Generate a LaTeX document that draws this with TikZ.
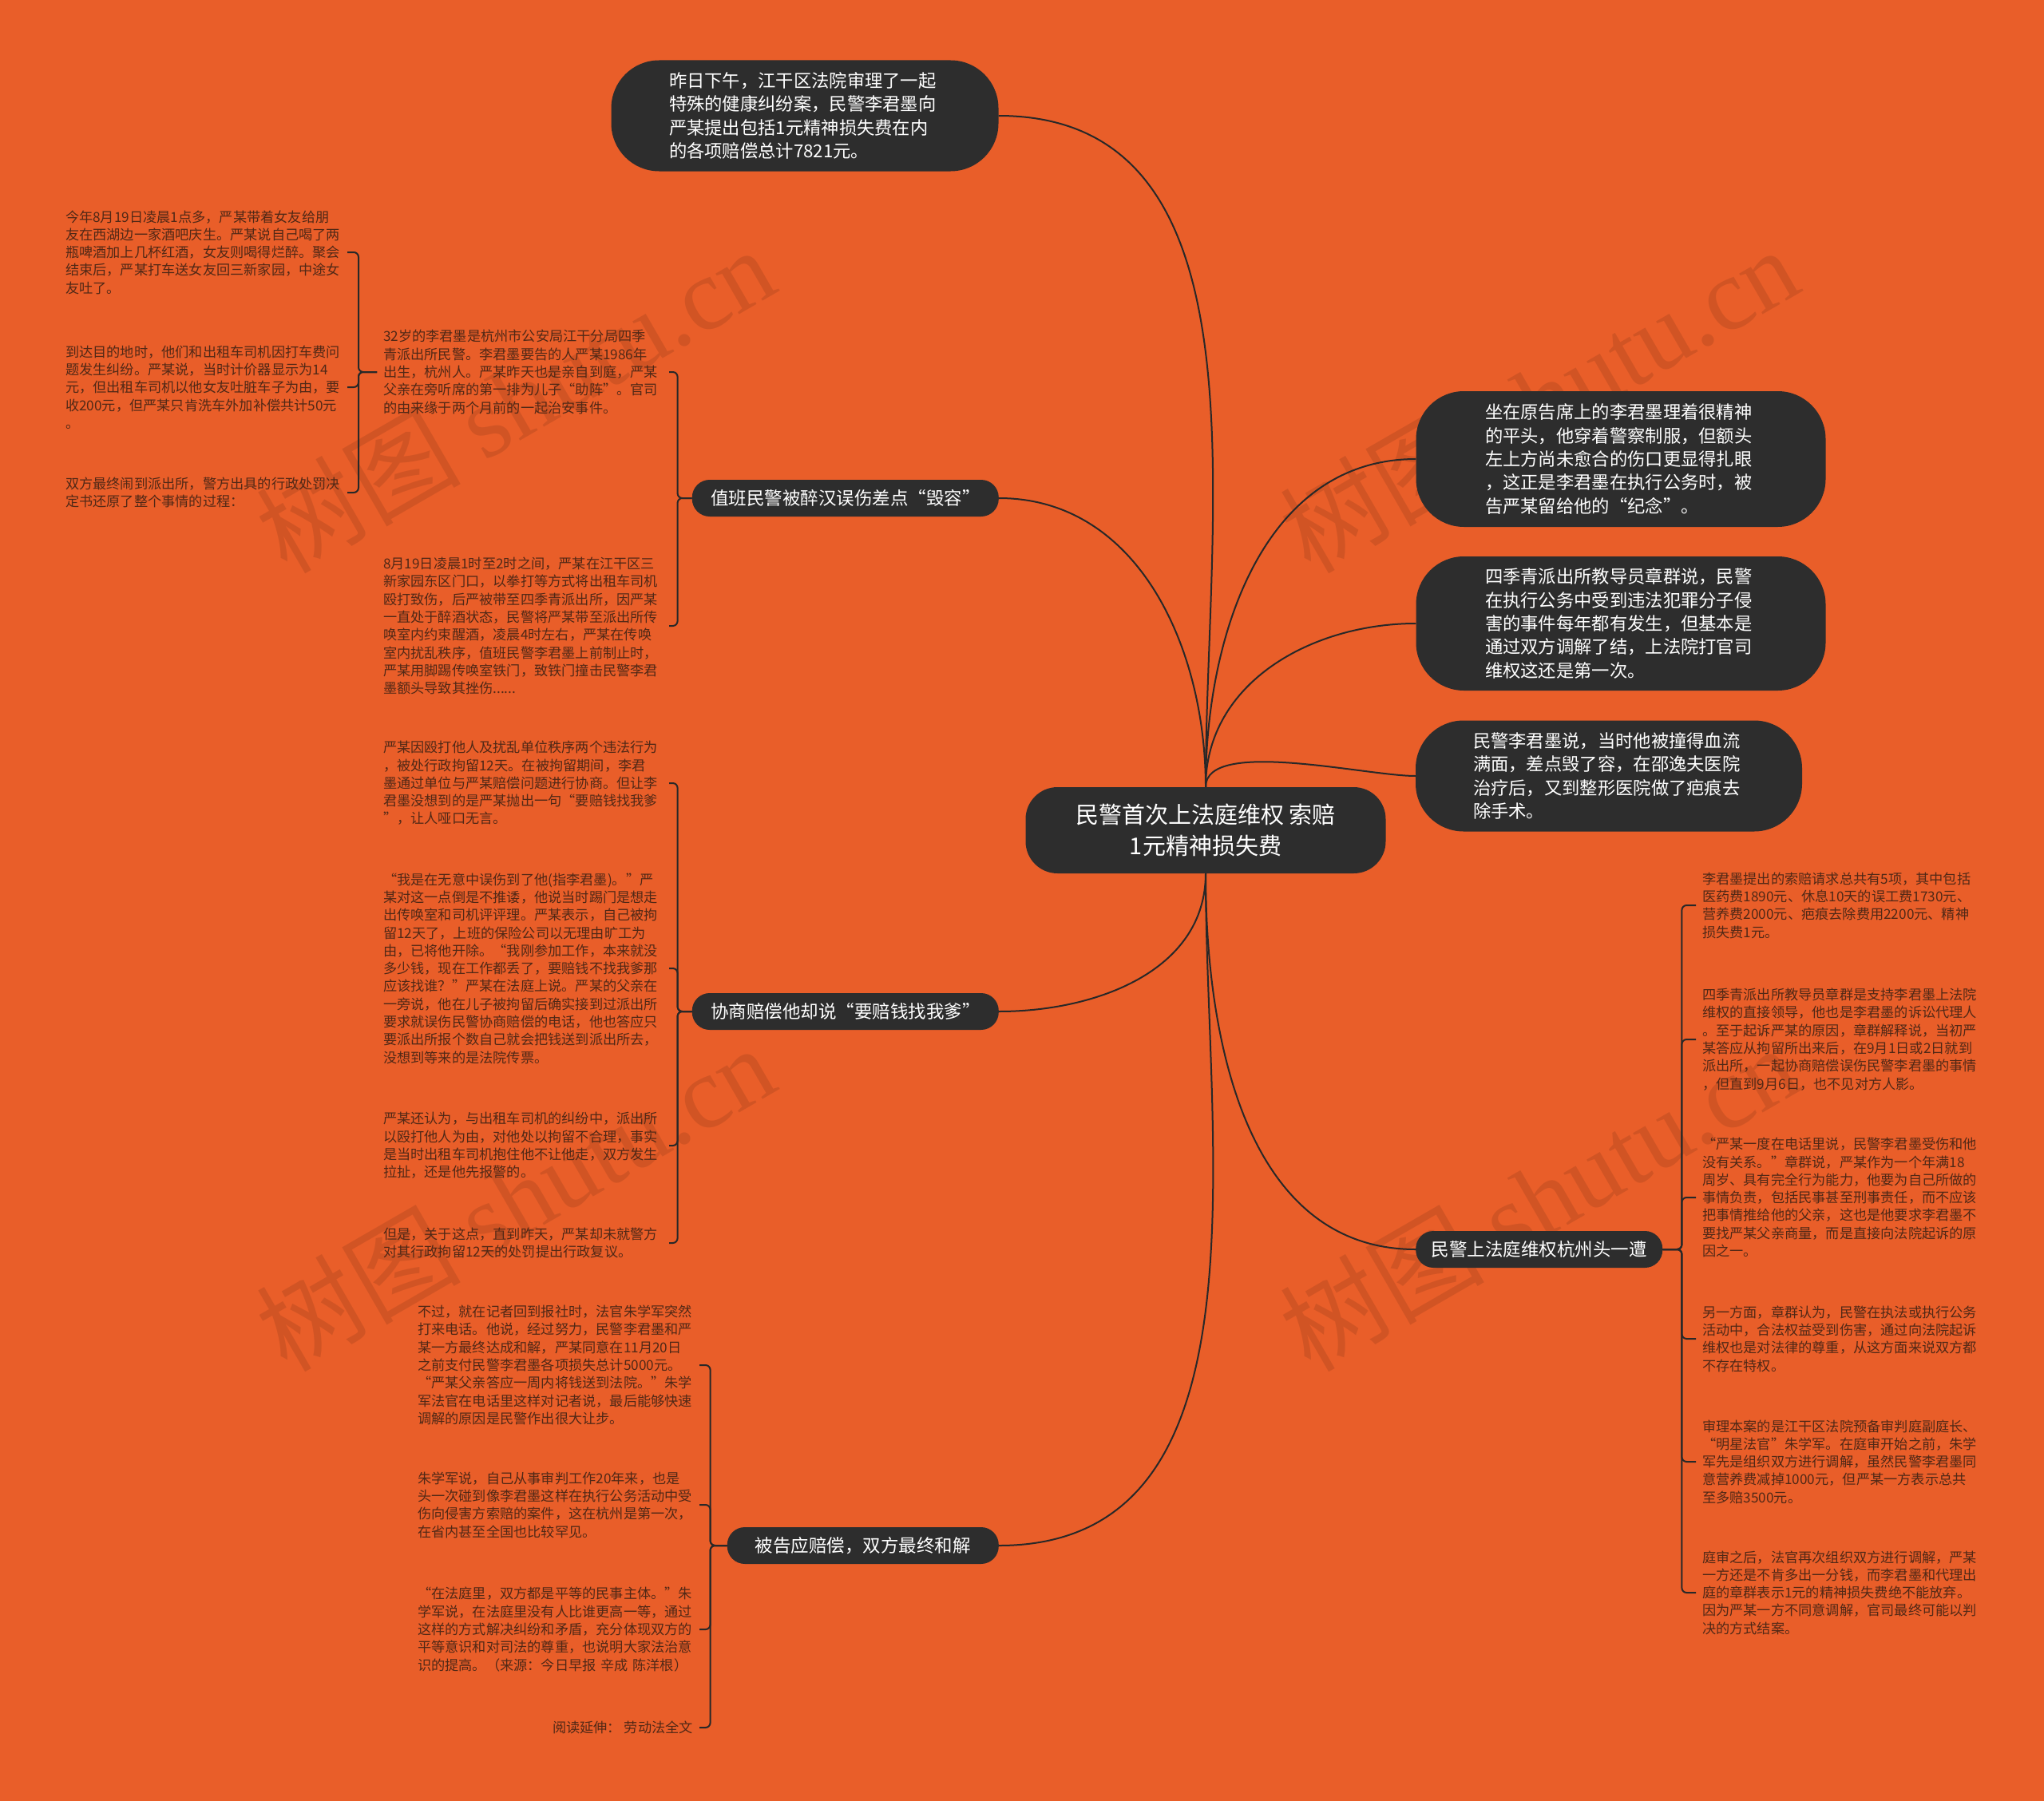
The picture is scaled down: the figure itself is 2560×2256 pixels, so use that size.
\documentclass[tikz,border=0pt]{standalone}
\usepackage{fontspec}
\setmainfont{Noto Sans CJK SC}
\newfontfamily\wmlatin{Liberation Serif}
\definecolor{MapOrange}{RGB}{233,94,41}
\definecolor{NodeDark}{RGB}{45,45,45}
\definecolor{LinkDark}{RGB}{40,40,40}
\definecolor{LeafInk}{RGB}{80,40,22}
\tikzset{
  link/.style={draw=LinkDark,line width=2pt},
  brace/.style={link,rounded corners=6pt},
  rootnode/.style={fill=NodeDark,text=white,rounded corners=40pt,align=center,minimum width=451pt,minimum height=108pt,font=\fontsize{29}{39}\selectfont},
  bignode/.style={fill=NodeDark,text=white,rounded corners=60pt,text width=340pt,align=left,font=\fontsize{22.3}{29.4}\selectfont},
  branchnode/.style={fill=NodeDark,text=white,rounded corners=22pt,minimum height=46pt,font=\fontsize{22.5}{28}\selectfont},
  leaf/.style={text=LeafInk,inner sep=0pt,outer xsep=8pt,align=left,anchor=west,font=\fontsize{17.2}{22.3}\selectfont},
  wmark/.style={rotate=30,text=black,opacity=0.1,font=\fontsize{128}{128}\selectfont}
}
\begin{document}
\begin{tikzpicture}[x=1pt,y=-1pt]
\fill[MapOrange] (0,0) rectangle (2560,2256);
\useasboundingbox (0,0) rectangle (2560,2256);
% watermarks
\foreach \wx/\wy in {645/500,1927/500,645/1500,1927/1500}
  \node[wmark] at (\wx,\wy) {树图 {\wmlatin shutu.cn}};

% centre
\node[rootnode] (root) at (1510,1040) {民警首次上法庭维权 索赔\\1元精神损失费};

% big notes
\node[bignode,minimum width=485pt,minimum height=139pt] (news) at (1008,145) {昨日下午，江干区法院审理了一起\\特殊的健康纠纷案，民警李君墨向\\严某提出包括1元精神损失费在内\\的各项赔偿总计7821元。};
\node[bignode,minimum width=513pt,minimum height=170pt] (seat) at (2030,575) {坐在原告席上的李君墨理着很精神\\的平头，他穿着警察制服，但额头\\左上方尚未愈合的伤口更显得扎眼\\，这正是李君墨在执行公务时，被\\告严某留给他的“纪念”。};
\node[bignode,minimum width=513pt,minimum height=168pt] (chief) at (2030,781) {四季青派出所教导员章群说，民警\\在执行公务中受到违法犯罪分子侵\\害的事件每年都有发生，但基本是\\通过双方调解了结，上法院打官司\\维权这还是第一次。};
\node[bignode,minimum width=484pt,minimum height=139pt] (injury) at (2015,972) {民警李君墨说，当时他被撞得血流\\满面，差点毁了容，在邵逸夫医院\\治疗后，又到整形医院做了疤痕去\\除手术。};

% branches
\node[branchnode,anchor=east,minimum width=384pt] (dutyb) at (1251,624) {值班民警被醉汉误伤差点“毁容”};
\node[branchnode,anchor=east,minimum width=384pt] (talkb) at (1251,1267) {协商赔偿他却说“要赔钱找我爹”};
\node[branchnode,anchor=east,minimum width=340pt] (settleb) at (1251,1936) {被告应赔偿，双方最终和解};
\node[branchnode,anchor=west,minimum width=309pt] (firstb) at (1773,1565) {民警上法庭维权杭州头一遭};

% leaves, far left
\node[leaf,text width=345pt] (night) at (74,316) {今年8月19日凌晨1点多，严某带着女友给朋\\友在西湖边一家酒吧庆生。严某说自己喝了两\\瓶啤酒加上几杯红酒，女友则喝得烂醉。聚会\\结束后，严某打车送女友回三新家园，中途女\\友吐了。};
\node[leaf,text width=345pt] (fare) at (74,485) {到达目的地时，他们和出租车司机因打车费问\\题发生纠纷。严某说，当时计价器显示为14\\元，但出租车司机以他女友吐脏车子为由，要\\收200元，但严某只肯洗车外加补偿共计50元\\。};
\node[leaf,text width=345pt] (record) at (74,617) {双方最终闹到派出所，警方出具的行政处罚决\\定书还原了整个事情的过程：};

% leaves, second column
\node[leaf,text width=350pt] (age) at (472,466) {32岁的李君墨是杭州市公安局江干分局四季\\青派出所民警。李君墨要告的人严某1986年\\出生，杭州人。严某昨天也是亲自到庭，严某\\父亲在旁听席的第一排为儿子“助阵”。官司\\的由来缘于两个月前的一起治安事件。};
\node[leaf,text width=350pt] (brawl) at (472,784) {8月19日凌晨1时至2时之间，严某在江干区三\\新家园东区门口，以拳打等方式将出租车司机\\殴打致伤，后严被带至四季青派出所，因严某\\一直处于醉酒状态，民警将严某带至派出所传\\唤室内约束醒酒，凌晨4时左右，严某在传唤\\室内扰乱秩序，值班民警李君墨上前制止时，\\严某用脚踢传唤室铁门，致铁门撞击民警李君\\墨额头导致其挫伤......};
\node[leaf,text width=350pt] (detain) at (472,981) {严某因殴打他人及扰乱单位秩序两个违法行为\\，被处行政拘留12天。在被拘留期间，李君\\墨通过单位与严某赔偿问题进行协商。但让李\\君墨没想到的是严某抛出一句“要赔钱找我爹\\”，让人哑口无言。};
\node[leaf,text width=350pt] (quote) at (472,1213) {“我是在无意中误伤到了他(指李君墨)。”严\\某对这一点倒是不推诿，他说当时踢门是想走\\出传唤室和司机评评理。严某表示，自己被拘\\留12天了，上班的保险公司以无理由旷工为\\由，已将他开除。“我刚参加工作，本来就没\\多少钱，现在工作都丢了，要赔钱不找我爹那\\应该找谁？”严某在法庭上说。严某的父亲在\\一旁说，他在儿子被拘留后确实接到过派出所\\要求就误伤民警协商赔偿的电话，他也答应只\\要派出所报个数自己就会把钱送到派出所去，\\没想到等来的是法院传票。};
\node[leaf,text width=350pt] (dispute) at (472,1435) {严某还认为，与出租车司机的纠纷中，派出所\\以殴打他人为由，对他处以拘留不合理，事实\\是当时出租车司机抱住他不让他走，双方发生\\拉扯，还是他先报警的。};
\node[leaf,text width=350pt] (review) at (472,1557) {但是，关于这点，直到昨天，严某却未就警方\\对其行政拘留12天的处罚提出行政复议。};

% leaves, third column
\node[leaf,text width=345pt] (deal) at (515,1710) {不过，就在记者回到报社时，法官朱学军突然\\打来电话。他说，经过努力，民警李君墨和严\\某一方最终达成和解，严某同意在11月20日\\之前支付民警李君墨各项损失总计5000元。\\“严某父亲答应一周内将钱送到法院。”朱学\\军法官在电话里这样对记者说，最后能够快速\\调解的原因是民警作出很大让步。};
\node[leaf,text width=345pt] (judge) at (515,1885) {朱学军说，自己从事审判工作20年来，也是\\头一次碰到像李君墨这样在执行公务活动中受\\伤向侵害方索赔的案件，这在杭州是第一次，\\在省内甚至全国也比较罕见。};
\node[leaf,text width=345pt] (equal) at (515,2041) {“在法庭里，双方都是平等的民事主体。”朱\\学军说，在法庭里没有人比谁更高一等，通过\\这样的方式解决纠纷和矛盾，充分体现双方的\\平等意识和对司法的尊重，也说明大家法治意\\识的提高。（来源：今日早报 辛成 陈洋根）};
\node[leaf,anchor=east] (more) at (876,2164) {阅读延伸： 劳动法全文};

% leaves, right column
\node[leaf,text width=345pt] (claim) at (2124,1134) {李君墨提出的索赔请求总共有5项，其中包括\\医药费1890元、休息10天的误工费1730元、\\营养费2000元、疤痕去除费用2200元、精神\\损失费1元。};
\node[leaf,text width=345pt] (lead) at (2124,1302) {四季青派出所教导员章群是支持李君墨上法院\\维权的直接领导，他也是李君墨的诉讼代理人\\。至于起诉严某的原因，章群解释说，当初严\\某答应从拘留所出来后，在9月1日或2日就到\\派出所，一起协商赔偿误伤民警李君墨的事情\\，但直到9月6日，也不见对方人影。};
\node[leaf,text width=345pt] (refuse) at (2124,1500) {“严某一度在电话里说，民警李君墨受伤和他\\没有关系。”章群说，严某作为一个年满18\\周岁、具有完全行为能力，他要为自己所做的\\事情负责，包括民事甚至刑事责任，而不应该\\把事情推给他的父亲，这也是他要求李君墨不\\要找严某父亲商量，而是直接向法院起诉的原\\因之一。};
\node[leaf,text width=345pt] (rights) at (2124,1677) {另一方面，章群认为，民警在执法或执行公务\\活动中，合法权益受到伤害，通过向法院起诉\\维权也是对法律的尊重，从这方面来说双方都\\不存在特权。};
\node[leaf,text width=345pt] (trial) at (2124,1831) {审理本案的是江干区法院预备审判庭副庭长、\\“明星法官”朱学军。在庭审开始之前，朱学\\军先是组织双方进行调解，虽然民警李君墨同\\意营养费减掉1000元，但严某一方表示总共\\至多赔3500元。};
\node[leaf,text width=345pt] (after) at (2124,1995) {庭审之后，法官再次组织双方进行调解，严某\\一方还是不肯多出一分钱，而李君墨和代理出\\庭的章群表示1元的精神损失费绝不能放弃。\\因为严某一方不同意调解，官司最终可能以判\\决的方式结案。};

% curves from the centre
\draw[link] (root.north) to[out=90,in=0] (news.east);
\draw[link] (root.north) to[out=90,in=0] (dutyb.east);
\draw[link] (root.north) to[out=90,in=180] (seat.west);
\draw[link] (root.north) to[out=90,in=180] (chief.west);
\draw[link] (root.north) to[out=90,in=180,looseness=0.6] (injury.west);
\draw[link] (root.south) to[out=-90,in=0] (talkb.east);
\draw[link] (root.south) to[out=-90,in=0] (settleb.east);
\draw[link] (root.south) to[out=-90,in=180] (firstb.west);

% braces
\foreach \c in {night,fare,record} \draw[brace] (age.west) -- ++(-23,0) |- (\c.east);
\foreach \c in {age,brawl} \draw[brace] (dutyb.west) -- ++(-18,0) |- (\c.east);
\foreach \c in {detain,quote,dispute,review} \draw[brace] (talkb.west) -- ++(-18,0) |- (\c.east);
\foreach \c in {deal,judge,equal,more} \draw[brace] (settleb.west) -- ++(-21,0) |- (\c.east);
\foreach \c in {claim,lead,refuse,rights,trial,after} \draw[brace] (firstb.east) -- ++(24,0) |- (\c.west);
\end{tikzpicture}
\end{document}
